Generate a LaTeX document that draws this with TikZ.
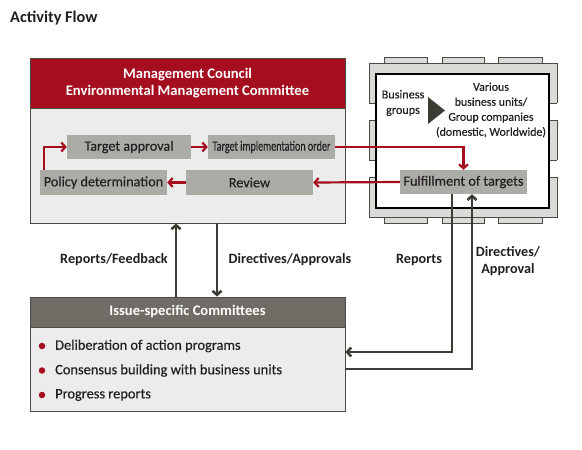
\documentclass[tikz,border=0pt]{standalone}
\usepackage{fontspec}
\setmainfont{Carlito}
\newfontfamily\medfont{Carlito}[FakeBold=0.35]
\usetikzlibrary{arrows.meta}
\definecolor{fjred}{HTML}{A50E1E}
\definecolor{darkline}{HTML}{3C3C34}
\definecolor{boxgray}{HTML}{ACACA6}
\definecolor{bodygray}{HTML}{ECECEC}
\definecolor{framegray}{HTML}{DADAD6}
\definecolor{hdrgray}{HTML}{6E6C64}
\definecolor{txt}{HTML}{231F20}
\definecolor{edge}{HTML}{4A4A46}
\tikzset{
  panel/.style={rectangle, draw=edge, line width=0.9pt, fill=bodygray, inner sep=0pt},
  hdr/.style={rectangle, draw=edge, line width=0.9pt, inner sep=0pt, text=white, font=\fontsize{14.6}{17.5}\selectfont\bfseries, align=center},
  stepbox/.style={rectangle, fill=boxgray, inner sep=0pt, text=txt, font=\fontsize{14.2}{16}\selectfont\medfont},
  redarr/.style={draw=fjred, line width=2.2pt, -{Straight Barb[length=4pt,width=9pt]}},
  darkarr/.style={draw=darkline, line width=2.6pt, -{Straight Barb[length=4pt,width=9pt]}},
  lbl/.style={text=txt, font=\fontsize{14.2}{17}\selectfont\bfseries, align=center, inner sep=0pt},
  item/.style={text=txt, font=\fontsize{14.4}{16}\selectfont\medfont, anchor=west, inner sep=0pt},
  bullet/.style={circle, fill=fjred, inner sep=0pt, minimum size=6.5pt},
  tab/.style={draw=edge, line width=0.8pt, fill=framegray},
}
\begin{document}
\begin{tikzpicture}[x=1pt,y=-1pt]
\useasboundingbox[fill=white] (0,0) rectangle (582,450);

% title
\node[lbl, anchor=west, font=\fontsize{16.3}{19}\selectfont\bfseries] (title) at (10,18) {Activity Flow};

% Management council
\node[panel, minimum width=315pt, minimum height=165pt] (mc) at (187.5,140.5) {};
\node[hdr, fill=fjred, minimum width=315pt, minimum height=50pt] (mch) at (187.5,83) {Management Council\\Environmental Management Committee};

\node[stepbox, minimum width=124pt, minimum height=24pt] (ta) at (129,147) {Target approval};
\node[stepbox, minimum width=127pt, minimum height=24pt] (tio) at (271.5,147) {\scalebox{0.71}[1]{Target implementation order}};
\node[stepbox, minimum width=127pt, minimum height=25pt] (pd) at (103.5,182.5) {Policy determination};
\node[stepbox, minimum width=127pt, minimum height=25pt] (rv) at (249.5,182.5) {Review};

% right frame (chip-like)
\foreach \xa/\xb in {384/427, 442/484, 498/542}{
  \draw[tab] (\xa,57) rectangle (\xb,63);
  \draw[tab] (\xa,217) rectangle (\xb,223);
}
\draw[tab] (369,63) rectangle (557,217);
\foreach \ya/\yb in {103/120, 160/177}{
  \fill[white] (368,\ya) rectangle (377,\yb);
  \fill[white] (548,\ya) rectangle (558,\yb);
  \draw[draw=edge, line width=0.8pt] (369,\ya) -- (376,\ya) (369,\yb) -- (376,\yb);
  \draw[draw=edge, line width=0.8pt] (549,\ya) -- (557,\ya) (549,\yb) -- (557,\yb);
}
\node[rectangle, draw=black, line width=1.2pt, fill=white, minimum width=173pt, minimum height=134pt, inner sep=0pt] (grp) at (462.5,141) {};

\node[text=txt, font=\fontsize{12.2}{15.5}\selectfont\medfont, align=center, inner sep=0pt] (bg) at (403,103) {Business\\groups};
\fill[darkline] (428,97) -- (445,110.5) -- (428,124) -- cycle;
\node[text=txt, font=\fontsize{11.9}{15}\selectfont\medfont, align=center, inner sep=0pt] (bu) at (491,110) {Various\\business units/\\Group companies\\(domestic, Worldwide)};

\node[stepbox, minimum width=127pt, minimum height=24pt] (ft) at (463.5,182) {Fulfillment of targets};

% red flow
\draw[redarr] ([xshift=4pt]pd.north west) |- (ta.west);
\draw[redarr] (ta.east) -- (tio.west);
\draw[redarr] (tio.east) -| (ft.north);
\draw[redarr] (ft.west) -- (rv.east);
\draw[redarr] (rv.west) -- (pd.east);

% Issue-specific committees
\node[panel, minimum width=315pt, minimum height=114pt] (ic) at (187.5,354) {};
\node[hdr, fill=hdrgray, minimum width=315pt, minimum height=30pt] (ich) at (187.5,312) {Issue-specific Committees};
\node[bullet] (b1) at (42,346) {};
\node[bullet] (b2) at (42,370.5) {};
\node[bullet] (b3) at (42,395) {};
\node[item] (i1) at (55,346) {Deliberation of action programs};
\node[item] (i2) at (55,370.5) {Consensus building with business units};
\node[item] (i3) at (55,395) {Progress reports};

% vertical dark arrows
\coordinate (xu) at (176,0);
\coordinate (xd) at (217,0);
\draw[darkarr] (ic.north -| xu) -- (mc.south -| xu);
\draw[darkarr] (mc.south -| xd) -- (ic.north -| xd);

\draw[darkarr] ([xshift=-11.5pt]ft.south) |- ([yshift=2pt]ic.east);
\draw[darkarr] ([yshift=-15pt]ic.east) -| ([xshift=8.5pt]ft.south);

% labels
\node[lbl] (l1) at (114,260) {Reports/Feedback};
\node[lbl] (l2) at (290,260) {Directives/Approvals};
\node[lbl] (l3) at (419,260) {Reports};
\node[lbl, font=\fontsize{14.2}{17}\selectfont\bfseries] (l4) at (508,261) {Directives/\\Approval};
\end{tikzpicture}
\end{document}
